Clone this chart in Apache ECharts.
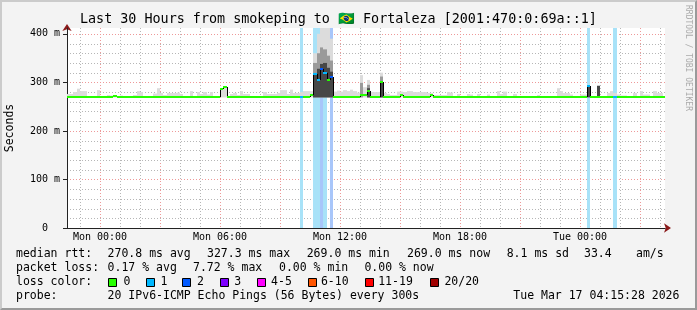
<!DOCTYPE html>
<html><head><meta charset="utf-8">
<script src="https://cdn.jsdelivr.net/npm/echarts@6/dist/echarts.min.js"></script>
<style>
html,body{margin:0;padding:0;background:#f3f3f3;}
#frame{position:absolute;left:0;top:0;width:697px;height:310px;box-sizing:border-box;border-top:2px solid #cbcbcb;border-left:2px solid #cbcbcb;border-bottom:2px solid #9a9a9a;border-right:2px solid #9a9a9a;background:#f3f3f3;}
#chart{position:absolute;left:0;top:0;width:697px;height:310px;}
</style></head><body>
<div id="frame"></div><div id="chart"></div>
<script>
// ---- data (hours relative to Mon 00:00, 10-minute samples) ----
const sampleStart = -10 / 6;   // first sample starts Sun 22:20
const sampleStep = 1 / 6;      // 10 minutes
const axisStartHour = -1.65;
const axisEndHour = 28.25;
const smokeFloor = 269;

const medianRtt = [
  269,269,269,269,269,269,269,269,269,269,
  269,269,269,269,272,269,269,269,269,269,
  269,269,269,269,269,269,269,269,269,269,
  269,269,269,269,269,269,269,269,269,269,
  269,269,269,269,269,269,286,290,269,269,
  269,269,269,269,269,269,269,269,269,269,
  269,269,269,269,269,269,269,269,269,269,
  269,269,269,274,317,305,327,320,304,312,
  269,269,269,269,269,269,269,269,273,273,
  282,269,269,269,300,269,269,269,269,269,
  273,269,269,269,269,269,269,269,269,273,
  269,269,269,269,269,269,269,269,269,269,
  269,269,269,269,269,269,269,269,269,269,
  269,269,269,269,269,269,269,269,269,269,
  269,269,269,269,269,269,269,269,269,269,
  269,269,269,269,269,269,292,269,269,269,
  269,269,269,269,269,269,269,269,269,269,
  269,269,269,269,269,269,269,269,269,269,
  269
];
const smokeTop = [
  276,276,280,287,282,282,271,271,272,284,
  271,272,274,273,273,271,273,272,271,272,
  274,282,280,272,272,271,277,288,278,274,
  278,278,278,279,276,272,272,282,272,280,
  276,280,275,280,272,272,288,291,272,276,
  278,274,282,276,276,272,271,271,271,280,
  276,276,276,278,284,284,276,285,278,278,
  280,282,282,282,360,400,412,412,412,390,
  281,283,281,284,282,285,282,279,315,290,
  305,280,280,280,320,278,276,274,274,281,
  281,280,282,282,280,280,280,280,278,278,
  274,274,274,274,280,279,272,276,272,272,
  276,275,270,276,270,270,275,270,270,282,
  276,281,270,270,276,270,270,270,272,270,
  270,274,270,270,270,270,270,288,282,278,
  278,275,272,272,275,275,295,272,272,293,
  272,272,278,282,278,275,273,273,270,270,
  278,272,282,275,275,272,282,278,278,272,
  272
];
// [sample index, ms] denser smoke bands
const smokeMid = [[74,340],[75,360],[76,372],[77,368],[78,355],[79,345],[88,299],[90,295],[94,312]];
const smokeDark = [[74,318],[75,328],[76,338],[77,340],[78,330],[79,322],[90,288],[94,300],[156,292],[159,293]];
// [sample index, lost pings of 20]
const lossSamples = [[70,1],[74,1],[75,1],[76,2],[77,1],[79,2],[156,1],[164,1]];

const xTickHours = [0, 6, 12, 18, 24];
const xTickLabels = ['Mon 00:00', 'Mon 06:00', 'Mon 12:00', 'Mon 18:00', 'Tue 00:00'];
const yTickValues = [0, 100, 200, 300, 400];
const yTickLabels = ['0  ', '100 m', '200 m', '300 m', '400 m'];

const titleText = 'Last 30 Hours from smokeping to \u{1F1E7}\u{1F1F7} Fortaleza [2001:470:0:69a::1]';
const legendRows = [
  [['median rtt:',16],['270.8 ms avg',107.6],['327.3 ms max',207],['269.0 ms min',306.7],['269.0 ms now',407],['8.1 ms sd',506.7],['33.4',584],['am/s',636]],
  [['packet loss:',16],['0.17 % avg',107.6],['7.72 % max',193],['0.00 % min',279],['0.00 % now',364.4]],
  [['loss color:',16]],
  [['probe:',16],['20 IPv6-ICMP Echo Pings (56 Bytes) every 300s',107.6],['Tue Mar 17 04:15:28 2026',513.3]]
];
const lossLegendLabels = ['0','1','2','3','4-5','6-10','11-19','20/20'];
const lossLegendColors = ['#26ff00','#00b8ff','#0059ff','#7e00ff','#ff00ff','#ff5500','#ff0000','#a00000'];

// ---- styling ----
const FONT = '"DejaVu Sans Mono", monospace';
const lossBarColors = {1: '#a8e2f8', 2: '#a8c6fa'};
function lossLineColor(c) {
  if (c <= 0) return lossLegendColors[0];
  if (c === 1) return lossLegendColors[1];
  if (c === 2) return lossLegendColors[2];
  if (c === 3) return lossLegendColors[3];
  if (c <= 5) return lossLegendColors[4];
  if (c <= 10) return lossLegendColors[5];
  if (c <= 19) return lossLegendColors[6];
  return lossLegendColors[7];
}
const t = i => sampleStart + i * sampleStep;
const lossByIdx = {};
lossSamples.forEach(([i, c]) => { lossByIdx[i] = c; });

function bandRenderer(fill) {
  return function (params, api) {
    const a = api.coord([api.value(0), api.value(2)]);
    const b = api.coord([api.value(1), api.value(3)]);
    const x0 = Math.round(a[0]), x1 = Math.round(b[0]);
    const rect = echarts.graphic.clipRectByRect({x: x0, y: b[1], width: x1 - x0, height: a[1] - b[1]}, params.coordSys);
    if (!rect || rect.width <= 0 || rect.height <= 0) return;
    return {type: 'rect', shape: rect, style: {fill: fill}};
  };
}
function lossRenderer(params, api) {
  const cs = params.coordSys;
  const x0 = Math.round(api.coord([api.value(0), 0])[0]);
  const x1 = Math.round(api.coord([api.value(1), 0])[0]);
  const rect = echarts.graphic.clipRectByRect({x: x0, y: cs.y, width: x1 - x0, height: cs.height}, cs);
  if (!rect || rect.width <= 0) return;
  return {type: 'rect', shape: rect, style: {fill: lossBarColors[api.value(2)] || '#a8e2f8'}};
}
function medianRenderer(params, api) {
  const cs = params.coordSys;
  const m = api.value(2), mPrev = api.value(3), loss = api.value(4);
  const p0 = api.coord([api.value(0), m]);
  const p1 = api.coord([api.value(1), m]);
  const y = Math.round(p0[1]);
  const yPrev = Math.round(api.coord([api.value(0), mPrev])[1]);
  const x0 = Math.round(p0[0]), x1 = Math.round(p1[0]);
  const left = cs.x, right = cs.x + cs.width;
  if (x1 <= left || x0 >= right) return;
  const children = [];
  if (mPrev !== m && x0 >= left) {
    children.push({type: 'line', shape: {x1: x0 + 0.5, y1: yPrev, x2: x0 + 0.5, y2: y}, style: {stroke: '#000', lineWidth: 1}});
  }
  children.push({type: 'line', shape: {x1: Math.max(x0, left), y1: y, x2: Math.min(x1, right), y2: y}, style: {stroke: lossLineColor(loss), lineWidth: 2}});
  return {type: 'group', children: children};
}
const minorGridColor = '#b6b6b6';
const majorGridColor = '#ee9999';
function vGridRenderer(params, api) {
  const cs = params.coordSys;
  const x = Math.round(api.coord([api.value(0), 0])[0]) + 0.5;
  if (x <= cs.x + 1 || x >= cs.x + cs.width) return;
  return {type: 'line', shape: {x1: x, y1: cs.y, x2: x, y2: cs.y + cs.height},
    style: {stroke: api.value(2) ? majorGridColor : minorGridColor, lineWidth: 1, lineDash: [1, 2]}};
}
function hGridRenderer(params, api) {
  const cs = params.coordSys;
  const y = Math.round(api.coord([axisStartHour, api.value(1)])[1]) + 0.5;
  return {type: 'line', shape: {x1: cs.x, y1: y, x2: cs.x + cs.width, y2: y},
    style: {stroke: api.value(2) ? majorGridColor : minorGridColor, lineWidth: 1, lineDash: [1, 2]}};
}

const vGridData = [];
for (let h = Math.ceil(axisStartHour); h <= axisEndHour; h++) vGridData.push([h, 0, h % 3 === 0 ? 1 : 0]);
const hGridData = [];
for (let v = 20; v <= 400; v += 20) hGridData.push([axisStartHour, v, v % 100 === 0 ? 1 : 0]);

const lightData = smokeTop.map((v, i) => [t(i), t(i + 1), smokeFloor, v]);
const midData = smokeMid.map(([i, v]) => [t(i), t(i + 1), smokeFloor, v]);
const darkData = smokeDark.map(([i, v]) => [t(i), t(i + 1), smokeFloor, v]);
const lossData = lossSamples.map(([i, c]) => [t(i), t(i + 1), c]);
const medianData = medianRtt.map((m, i) => [t(i), t(i + 1), m, i > 0 ? medianRtt[i - 1] : m, lossByIdx[i] || 0]);

// ---- graphic texts ----
const graphics = [];
graphics.push({type: 'text', x: 80, y: 20, z: 10, style: {text: titleText, font: '13.4px ' + FONT, fill: '#000', align: 'left', verticalAlign: 'middle'}});
graphics.push({type: 'text', x: 688, y: 5, rotation: -Math.PI / 2, z: 10, style: {text: 'RRDTOOL / TOBI OETIKER', font: '8px ' + FONT, fill: '#aaaaaa', align: 'left', verticalAlign: 'middle'}});
graphics.push({type: 'text', x: 10, y: 128, rotation: Math.PI / 2, z: 10, style: {text: 'Seconds', font: '11.5px ' + FONT, fill: '#000', align: 'center', verticalAlign: 'middle'}});
const rowY = [254.5, 268.3, 282.3, 296];
legendRows.forEach((row, r) => {
  row.forEach(([txt, x]) => {
    graphics.push({type: 'text', x: x, y: rowY[r], z: 10, style: {text: txt, font: '11.5px ' + FONT, fill: '#000', align: 'left', verticalAlign: 'middle'}});
  });
});
const boxX = [108.4, 145.8, 182.2, 219.6, 256.9, 307.6, 365.3, 430.2];
const boxLabelX = [123.6, 160.4, 196.9, 234.2, 271.1, 320.9, 378.2, 444.4];
lossLegendLabels.forEach((lab, k) => {
  graphics.push({type: 'rect', z: 10, shape: {x: Math.round(boxX[k]) + 0.5, y: 278.5, width: 8, height: 8}, style: {fill: lossLegendColors[k], stroke: '#000', lineWidth: 1}});
  graphics.push({type: 'text', x: boxLabelX[k], y: rowY[2], z: 10, style: {text: lab, font: '11.5px ' + FONT, fill: '#000', align: 'left', verticalAlign: 'middle'}});
});

const chart = echarts.init(document.getElementById('chart'), null, {renderer: 'canvas', width: 697, height: 310});
chart.setOption({
  animation: false,
  backgroundColor: 'transparent',
  graphic: graphics,
  grid: {left: 67, right: 32, top: 28, bottom: 82, containLabel: false, outerBoundsMode: 'none', backgroundColor: '#fff', show: true, borderWidth: 0},
  xAxis: [{
    type: 'value', min: axisStartHour, max: axisEndHour, z: 1,
    axisLine: {show: true, onZero: false, lineStyle: {color: '#222', width: 1}},
    axisTick: {show: false},
    splitLine: {show: false},
    axisLabel: {customValues: xTickHours, margin: 4, fontFamily: FONT, fontSize: 10, color: '#000',
      formatter: v => xTickLabels[xTickHours.indexOf(v)] || ''}
  }, {
    type: 'value', min: axisStartHour, max: axisEndHour, position: 'bottom', z: 0,
    axisLine: {show: true, onZero: false, symbol: ['none', 'arrow'], symbolSize: [7, 7], symbolOffset: [0, 6], lineStyle: {color: '#8b1a1a', width: 1}},
    axisTick: {show: false}, axisLabel: {show: false}, splitLine: {show: false}
  }],
  yAxis: [{
    type: 'value', min: 0, max: 412, z: 1, position: 'left',
    axisLine: {show: true, onZero: false, lineStyle: {color: '#222', width: 1}},
    axisTick: {show: true, customValues: yTickValues, length: 4, lineStyle: {color: '#222'}},
    splitLine: {show: false},
    axisLabel: {customValues: yTickValues, margin: 7, fontFamily: FONT, fontSize: 10, color: '#000',
      formatter: v => yTickLabels[yTickValues.indexOf(v)] || ''}
  }, {
    type: 'value', min: 0, max: 412, position: 'left', z: 0,
    axisLine: {show: true, onZero: false, symbol: ['none', 'arrow'], symbolSize: [7, 7], symbolOffset: [0, 4], lineStyle: {color: '#8b1a1a', width: 1}},
    axisTick: {show: false}, axisLabel: {show: false}, splitLine: {show: false}
  }],
  series: [
    {type: 'custom', name: 'vgrid', z: 1, silent: true, renderItem: vGridRenderer, data: vGridData, encode: {x: 0, y: 1}},
    {type: 'custom', name: 'hgrid', z: 1, silent: true, renderItem: hGridRenderer, data: hGridData, encode: {x: 0, y: 1}},
    {type: 'custom', name: 'loss', z: 2, silent: true, renderItem: lossRenderer, data: lossData, encode: {x: [0, 1]}},
    {type: 'custom', name: 'smoke', z: 3, silent: true, renderItem: bandRenderer('#dcdcdc'), data: lightData, encode: {x: [0, 1], y: [2, 3]}},
    {type: 'custom', name: 'smokeMid', z: 3, silent: true, renderItem: bandRenderer('#9a9a9a'), data: midData, encode: {x: [0, 1], y: [2, 3]}},
    {type: 'custom', name: 'smokeDark', z: 3, silent: true, renderItem: bandRenderer('#474747'), data: darkData, encode: {x: [0, 1], y: [2, 3]}},
    {type: 'custom', name: 'median', z: 5, silent: true, renderItem: medianRenderer, data: medianData, encode: {x: [0, 1], y: 2}}
  ]
});
</script></body></html>
